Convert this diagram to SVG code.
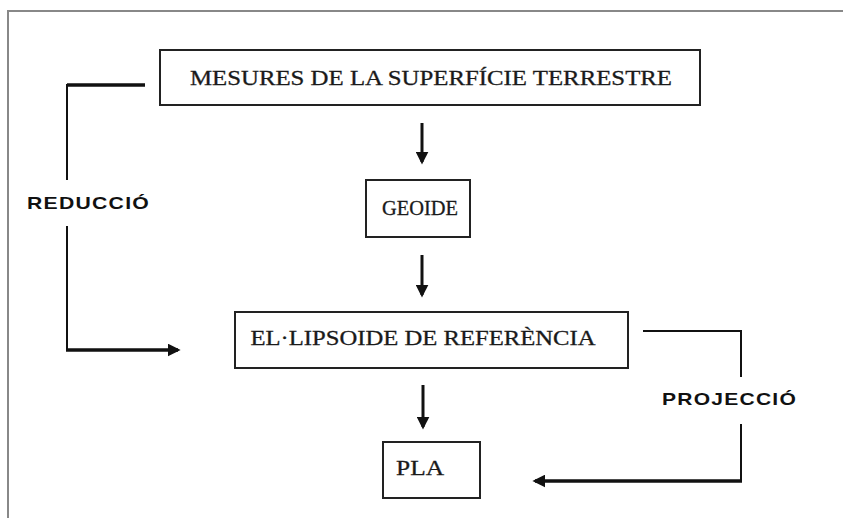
<svg xmlns="http://www.w3.org/2000/svg" width="843" height="518" viewBox="0 0 843 518">
<style>
.box{fill:#fff;stroke:#222;stroke-width:2}
.bt{font-family:"Liberation Serif",serif;font-size:21px;fill:#1a1a1a;text-anchor:middle;stroke:#1a1a1a;stroke-width:0.3}
.lbl{font-family:"Liberation Sans",Arial,sans-serif;font-weight:bold;font-size:17px;fill:#111;letter-spacing:1px}
.ln{fill:none;stroke:#111;stroke-width:2}
.lt{fill:none;stroke:#111;stroke-width:3.5}
.dn{fill:none;stroke:#111;stroke-width:3}
</style>
<defs>
<marker id="ah" viewBox="0 0 10 10" refX="8" refY="5" markerWidth="13" markerHeight="13" orient="auto" markerUnits="userSpaceOnUse">
<path d="M0,0 L10,5 L0,10 z" fill="#111"/>
</marker>
</defs>
<rect width="843" height="518" fill="#fff"/>
<path d="M8,518 V11 H843" fill="none" stroke="#888" stroke-width="2"/>
<g id="n1"><rect class="box" x="160" y="50" width="540" height="55"/><text class="bt" x="431" y="85" textLength="482" lengthAdjust="spacingAndGlyphs">MESURES DE LA SUPERFÍCIE TERRESTRE</text></g>
<g id="n2"><rect class="box" x="366" y="180" width="104" height="57"/><text class="bt" x="420" y="215" textLength="76" lengthAdjust="spacingAndGlyphs">GEOIDE</text></g>
<g id="n3"><rect class="box" x="235" y="312" width="393" height="56"/><text class="bt" x="423" y="345" textLength="345" lengthAdjust="spacingAndGlyphs">EL·LIPSOIDE DE REFERÈNCIA</text></g>
<g id="n4"><rect class="box" x="383" y="442" width="97" height="56"/><text class="bt" x="420" y="475" textLength="48" lengthAdjust="spacingAndGlyphs">PLA</text></g>
<g id="labels">
<text class="lbl" x="27" y="209" textLength="123" lengthAdjust="spacingAndGlyphs">REDUCCIÓ</text>
<text class="lbl" x="662" y="405" textLength="135" lengthAdjust="spacingAndGlyphs">PROJECCIÓ</text>
</g>
<g id="connectors">
<path class="lt" d="M145,85 H67"/>
<path class="ln" d="M67,84 V180"/>
<path class="ln" d="M67,226 V350"/>
<path class="lt" d="M66,350 H178" marker-end="url(#ah)"/>
<path class="dn" d="M422,123 V162" marker-end="url(#ah)"/>
<path class="dn" d="M422,255 V295" marker-end="url(#ah)"/>
<path class="dn" d="M423,385 V427" marker-end="url(#ah)"/>
<path class="ln" d="M643,331 H741 V377"/>
<path class="ln" d="M741,424 V482"/>
<path class="lt" d="M742,481 H535" marker-end="url(#ah)"/>
</g>
</svg>
